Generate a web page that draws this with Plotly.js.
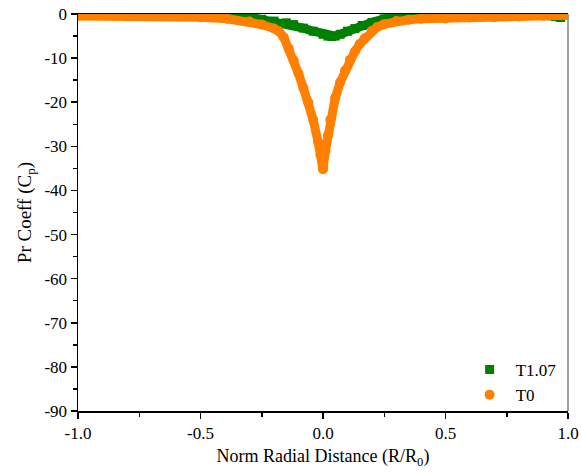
<!DOCTYPE html>
<html>
<head>
<meta charset="utf-8">
<script src="https://cdn.plot.ly/plotly-3.0.1.min.js"></script>
<style>html,body{margin:0;padding:0;background:#fff;}#chart{width:581px;height:473px;}</style>
</head>
<body>
<div id="chart"></div>
<script>
// T1.07 series (green squares)
var xT107 = [-1.0, -0.8, -0.6, -0.45, -0.39, -0.35, -0.3, -0.25, -0.2, -0.15, -0.12, -0.08, -0.04, 0.0, 0.02, 0.035, 0.05, 0.07, 0.1, 0.13, 0.16, 0.2, 0.25, 0.3, 0.35, 0.4, 0.5, 0.6, 0.7, 0.8, 0.9, 0.95, 0.97];
var yT107 = [-0.3, -0.2, -0.1, 0.0, 0.0, -0.3, -0.7, -1.2, -1.6, -2.0, -2.4, -3.2, -3.9, -4.6, -5.0, -5.1, -5.0, -4.6, -3.9, -3.3, -2.6, -1.9, -1.1, -0.6, -0.3, -0.15, -0.1, -0.1, -0.1, -0.15, -0.3, -0.6, -0.8];
// T0 series (orange circles)
var xT0 = [-1.0, -0.8, -0.665, -0.5, -0.39, -0.3, -0.25, -0.2, -0.18, -0.16, -0.14, -0.12, -0.10, -0.08, -0.06, -0.04, -0.02, -0.01, 0.0, 0.01, 0.02, 0.03, 0.05, 0.07, 0.09, 0.11, 0.13, 0.15, 0.17, 0.20, 0.22, 0.25, 0.3, 0.35, 0.4, 0.5, 0.6, 0.7, 0.8, 0.9, 1.0];
var yT0 = [-0.45, -0.5, -0.5, -0.75, -1.1, -1.7, -2.4, -3.3, -3.9, -5.3, -7.8, -10.5, -13.5, -16.8, -20, -24, -29, -32, -35.2, -31, -27.5, -24, -19, -15.5, -12.8, -10.4, -8.5, -6.8, -5.5, -3.8, -3.0, -2.3, -1.6, -1.3, -1.1, -1.0, -0.8, -0.7, -0.55, -0.4, -0.3];
var seriesNames = ['T1.07', 'T0'];
var xTickVals = [-1.0, -0.5, 0.0, 0.5, 1.0];
var xTickText = ['-1.0', '-0.5', '0.0', '0.5', '1.0'];
var yTickVals = [0, -10, -20, -30, -40, -50, -60, -70, -80, -90];
var yTickText = ['0', '-10', '-20', '-30', '-40', '-50', '-60', '-70', '-80', '-90'];

var GREEN = '#008000', ORANGE = '#FF8000';
var FONT = '"Liberation Serif", "Times New Roman", "DejaVu Serif", serif';

var traces = [
  {x: xT107, y: yT107, mode: 'lines', line: {color: GREEN, width: 9}, showlegend: false, hoverinfo: 'skip'},
  {x: xT107, y: yT107, mode: 'markers', name: seriesNames[0], marker: {symbol: 'square', size: 9, color: GREEN}},
  {x: xT0, y: yT0, mode: 'lines', line: {color: ORANGE, width: 9}, showlegend: false, hoverinfo: 'skip'},
  {x: xT0, y: yT0, mode: 'markers', name: seriesNames[1], marker: {symbol: 'circle', size: 10, color: ORANGE}}
];

var layout = {
  width: 581, height: 473,
  margin: {l: 78, r: 13, t: 14, b: 62},
  paper_bgcolor: '#fff', plot_bgcolor: '#fff',
  font: {family: FONT, color: '#000', size: 17},
  showlegend: true,
  legend: {x: 0.787, xanchor: 'left', y: -0.005, yanchor: 'bottom', bgcolor: 'rgba(0,0,0,0)', itemwidth: 42, font: {family: FONT, size: 17, color: '#000'}, traceorder: 'normal', tracegroupgap: 0},
  xaxis: {
    range: [-1, 1], showgrid: false, zeroline: false,
    showline: true, linecolor: '#000', linewidth: 1.5, mirror: true,
    tickmode: 'array', tickvals: xTickVals, ticktext: xTickText,
    ticks: 'outside', ticklen: 6, tickwidth: 1.5, tickcolor: '#000',
    minor: {dtick: 0.25, ticks: 'outside', ticklen: 4, tickwidth: 1.5, tickcolor: '#000', showgrid: false},
    tickfont: {family: FONT, size: 17, color: '#000'},
    layer: 'below traces',
    title: {text: 'Norm Radial Distance (R/R<sub>0</sub>)', font: {family: FONT, size: 18, color: '#000'}, standoff: 7}
  },
  yaxis: {
    range: [-90, 0], showgrid: false, zeroline: false,
    showline: true, linecolor: '#000', linewidth: 1.5,
    tickmode: 'array', tickvals: yTickVals, ticktext: yTickText,
    ticks: 'outside', ticklen: 6, tickwidth: 1.5, tickcolor: '#000',
    minor: {dtick: 5, ticks: 'outside', ticklen: 4, tickwidth: 1.5, tickcolor: '#000', showgrid: false},
    tickfont: {family: FONT, size: 17, color: '#000'},
    layer: 'below traces',
    title: {text: 'Pr Coeff (C<sub>p</sub>)', font: {family: FONT, size: 19, color: '#000'}, standoff: 8}
  },
  shapes: [
    {type: 'line', xref: 'paper', yref: 'paper', x0: 1, x1: 1, y0: 0, y1: 1, line: {color: '#808080', width: 1.5}, layer: 'below'}
  ]
};

Plotly.newPlot('chart', traces, layout, {displayModeBar: false, staticPlot: true});
</script>
</body>
</html>
